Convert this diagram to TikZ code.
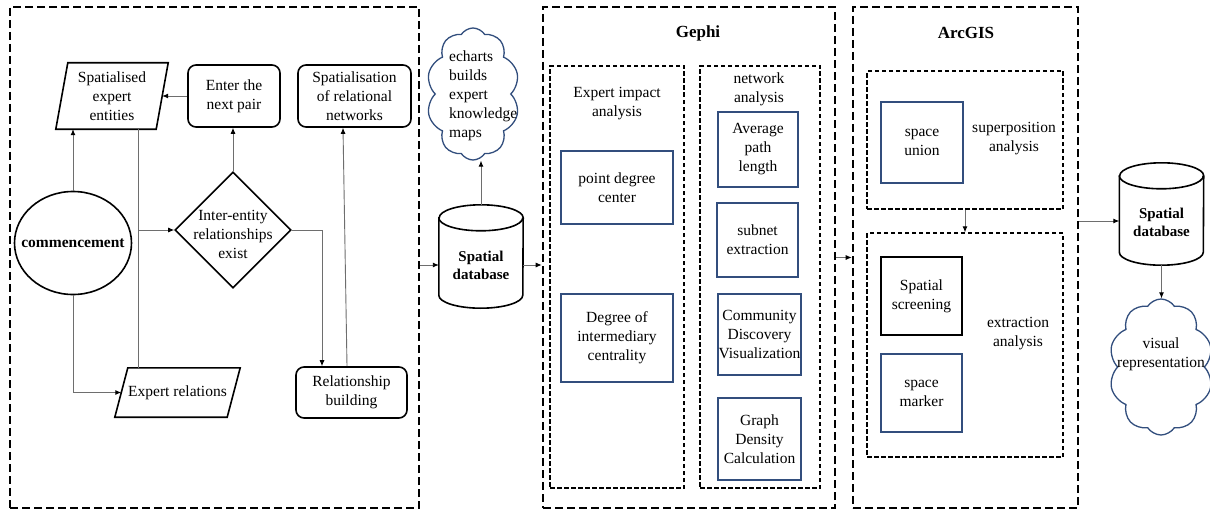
\documentclass[tikz,border=0pt]{standalone}
\usepackage{fontspec}
\setmainfont{Liberation Serif}
\usetikzlibrary{shapes.geometric,shapes.symbols,arrows.meta,calc}
\definecolor{bbox}{RGB}{50,78,125}
\definecolor{conn}{RGB}{110,110,110}
\newcommand\dbcyl[1]{%
  \draw[shapeline] ($(#1.north west)+(0,-13)$) -- ($(#1.south west)+(0,13)$)
    arc[start angle=180,end angle=360,x radius=42pt,y radius=13pt]
    -- ($(#1.north east)+(0,-13)$)
    arc[start angle=0,end angle=180,x radius=42pt,y radius=13pt] -- cycle;
  \draw[shapeline] ($(#1.north west)+(0,-13)$)
    arc[start angle=180,end angle=360,x radius=42pt,y radius=13pt];}
\newcommand\paral[2]{%
  \draw[shapeline] ($(#1.north west)+(#2,0)$) -- ($(#1.north east)+(#2,0)$)
    -- ($(#1.south east)+(-#2,0)$) -- ($(#1.south west)+(-#2,0)$) -- cycle;}
\begin{document}
\begin{tikzpicture}[x=1pt,y=1pt,
  txt/.style={font=\fontsize{15.5}{19}\selectfont, align=center, inner sep=0pt},
  bold/.style={txt, font=\fontsize{15.5}{19}\selectfont\bfseries},
  dbtxt/.style={txt, font=\fontsize{15}{18}\selectfont\bfseries},
  title/.style={txt, font=\fontsize{17}{20}\selectfont\bfseries},
  outer/.style={draw, line width=2.6pt, dash pattern=on 8pt off 4pt, inner sep=0pt},
  inner/.style={draw, line width=1.3pt, dash pattern=on 4.5pt off 2.5pt, inner sep=0pt},
  bluebox/.style={txt, draw=bbox, line width=1.8pt},
  blackbox/.style={txt, draw, line width=1.8pt},
  rbox/.style={txt, draw, line width=1.6pt, rounded corners=8pt},
  shapeline/.style={draw, line width=1.6pt},
  arr/.style={draw=conn, line width=0.9pt, -{Latex[length=6pt,width=5pt,color=black]}},
  conline/.style={draw=conn, line width=0.9pt},
  cloudshape/.style={cloud, cloud puffs=10, cloud puff arc=115, cloud ignores aspect, draw=bbox, line width=1.3pt, inner sep=0pt},
]
\useasboundingbox[fill=white] (0,0) rectangle (1210,-511);

% ---------- left box ----------
\node[outer, minimum width=409pt, minimum height=501pt] (box1) at (214.5,-257.5) {};
\node[ellipse, shapeline, minimum width=117pt, minimum height=103pt, inner sep=0pt] (start) at (73,-243) {};
\node[bold] (startt) at (start) {commencement};
\node[txt, minimum width=100pt, minimum height=66pt] (sp) at (112,-96) {Spatialised\\expert\\entities};
\paral{sp}{6}
\node[txt, minimum width=112pt, minimum height=49pt] (er) at (177.5,-392.5) {Expert relations};
\paral{er}{6.5}
\node[rbox, minimum width=92pt, minimum height=62pt] (enter) at (234,-96) {Enter the\\next pair};
\node[rbox, minimum width=113pt, minimum height=62pt] (spn) at (354.5,-96) {Spatialisation\\of relational\\networks};
\node[rbox, minimum width=111pt, minimum height=51pt] (rb) at (351.5,-392.5) {Relationship\\building};
\node[diamond, shapeline, minimum width=116pt, minimum height=116pt, inner sep=0pt] (dia) at (233,-230) {};
\node[txt] (diat) at (233,-234) {Inter-entity\\relationships\\exist};

\draw[arr] (start.north) -- (start.north |- sp.south);
\draw[arr] (start.south) |- (er.west);
\coordinate (vtop) at ($(sp.south)+(26,0)$);
\draw[conline] (vtop) -- ($(er.north)+(-39.5,0)$);
\draw[arr] (vtop |- dia.west) -- (dia.west);
\draw[arr] (dia.north) -- (dia.north |- enter.south);
\draw[arr] (enter.west) -- (sp.east);
\draw[arr] (dia.east) -| ($(rb.north)+(-29.5,0)$);
\draw[arr] ($(rb.north)+(-4.5,0)$) -- ($(spn.south)+(-11.5,0)$);

% ---------- middle database & cloud ----------
\node[minimum width=84pt, minimum height=103pt, inner sep=0pt] (db1) at (481,-256.5) {};
\dbcyl{db1}
\node[dbtxt] at ($(db1)+(0,-9)$) {Spatial\\database};
\node[cloudshape, minimum width=93pt, minimum height=132pt] (c1) at (473,-94) {};
\node[txt, align=left, anchor=west] (c1t) at (449,-96) {echarts\\builds\\expert\\knowledge\\maps};
\draw[arr] (db1.north) -- (db1.north |- c1.south);

% ---------- Gephi ----------
\node[outer, minimum width=292pt, minimum height=501pt] (gephi) at (689,-257.5) {};
\node[title] (gt) at (698,-33) {Gephi};
\node[inner, minimum width=134pt, minimum height=422pt] (eia) at (617,-277) {};
\node[txt] (eiat) at (617,-104) {Expert impact\\analysis};
\node[inner, minimum width=120pt, minimum height=422pt] (net) at (760,-277) {};
\node[txt] (nett) at (759,-89) {network\\analysis};
\node[bluebox, minimum width=112pt, minimum height=73pt] (pdc) at (617,-187.5) {point degree\\center};
\node[bluebox, minimum width=112pt, minimum height=88pt] (doic) at (617,-338) {Degree of\\intermediary\\centrality};
\node[bluebox, minimum width=80pt, minimum height=75pt] (apl) at (758,-149.5) {Average\\path\\length};
\node[bluebox, minimum width=81pt, minimum height=74pt] (sub) at (757.5,-240) {subnet\\extraction};
\node[bluebox, minimum width=83pt, minimum height=81pt] (cdv) at (759.5,-334.5) {Community\\Discovery\\Visualization};
\node[bluebox, minimum width=83pt, minimum height=82pt] (gdc) at (759.5,-439) {Graph\\Density\\Calculation};

\draw[arr] ($(db1.east)+(0,-8.5)$) -- ($(gephi.west)+(0,-7.5)$);
\draw[arr] ($(box1.east)+(0,-7.5)$) -- ($(db1.west)+(0,-8.5)$);

% ---------- ArcGIS ----------
\node[outer, minimum width=225pt, minimum height=501pt] (arcgis) at (965.5,-257.5) {};
\node[title] (at) at (966,-33) {ArcGIS};
\node[inner, minimum width=196pt, minimum height=138pt] (sup) at (965,-140) {};
\node[bluebox, minimum width=82pt, minimum height=81pt] (su) at (922,-142.5) {space\\union};
\node[txt] (supt) at (1014,-139) {superposition\\analysis};
\node[inner, minimum width=196pt, minimum height=224pt] (ext) at (965,-345) {};
\node[blackbox, minimum width=81pt, minimum height=78pt] (ss) at (921.5,-296) {Spatial\\screening};
\node[bluebox, minimum width=81pt, minimum height=78pt] (sm) at (921.5,-393) {space\\marker};
\node[txt] (extt) at (1018,-334) {extraction\\analysis};
\draw[arr] (sup.south) -- (ext.north);
\draw[arr] (gephi.east) -- (arcgis.west);

% ---------- right database & cloud ----------
\node[minimum width=84pt, minimum height=102pt, inner sep=0pt] (db2) at (1161.5,-214) {};
\dbcyl{db2}
\node[dbtxt] at ($(db2)+(0,-8)$) {Spatial\\database};
\draw[arr] ($(arcgis.east)+(0,36.5)$) -- ($(db2.west)+(0,-7)$);
\node[cloudshape, minimum width=104pt, minimum height=136pt] (c2) at (1161,-367) {};
\node[txt] (c2t) at (1161,-354) {visual\\representation};
\draw[arr] (db2.south) -- (db2.south |- c2.north);
\end{tikzpicture}
\end{document}
